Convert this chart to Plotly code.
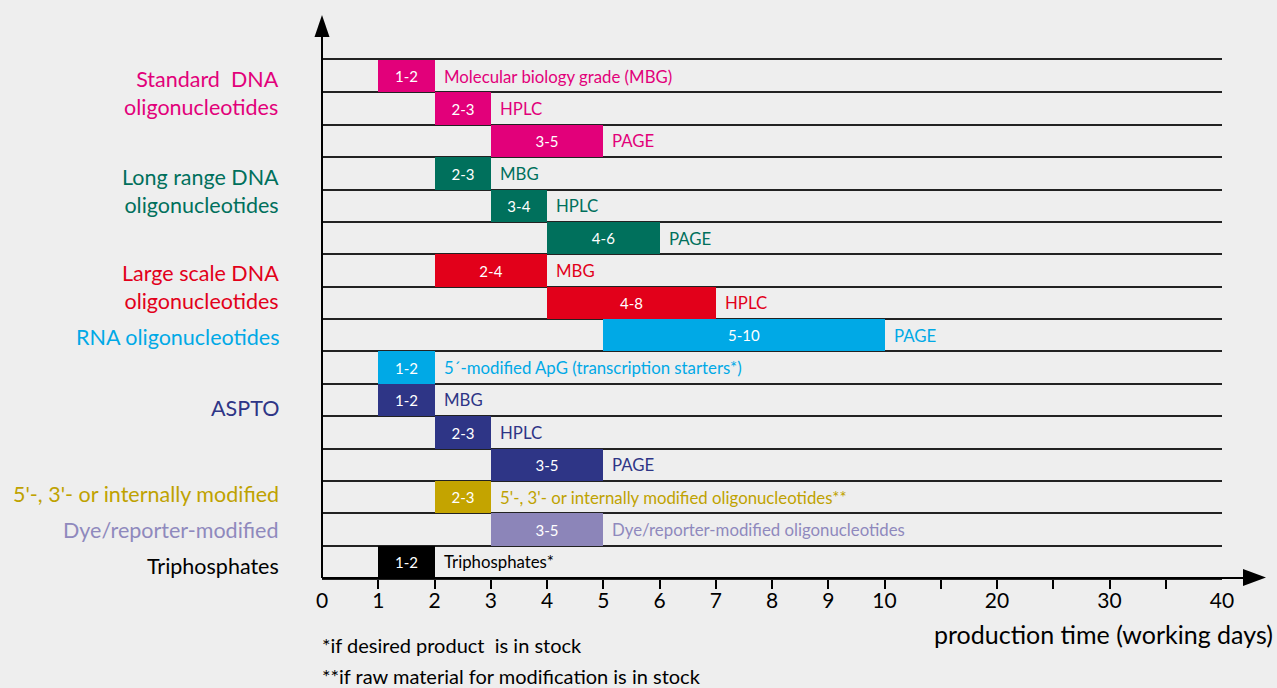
import plotly.graph_objects as go

# ---------------- data ----------------
groups = ["std", "std", "std", "long", "long", "long", "large", "large",
          "rna", "rna", "aspto", "aspto", "aspto", "mod", "dye", "tri"]
start_days = [1, 2, 3, 2, 3, 4, 2, 4, 5, 1, 1, 2, 3, 2, 3, 1]
end_days = [2, 3, 5, 3, 4, 6, 4, 7, 10, 2, 2, 3, 5, 3, 5, 2]
bar_labels = ["1-2", "2-3", "3-5", "2-3", "3-4", "4-6", "2-4", "4-8",
              "5-10", "1-2", "1-2", "2-3", "3-5", "2-3", "3-5", "1-2"]
row_notes = ["Molecular biology grade (MBG)", "HPLC", "PAGE", "MBG", "HPLC", "PAGE",
             "MBG", "HPLC", "PAGE", "5´-modified ApG (transcription starters*)",
             "MBG", "HPLC", "PAGE",
             "5'-, 3'- or internally modified oligonucleotides**",
             "Dye/reporter-modified oligonucleotides", "Triphosphates*"]

group_names = ["std", "long", "large", "rna", "aspto", "mod", "dye", "tri"]
group_titles = ["Standard  DNA<br>oligonucleotides", "Long range DNA<br>oligonucleotides",
                "Large scale DNA<br>oligonucleotides", "RNA oligonucleotides", "ASPTO",
                "5'-, 3'- or internally modified", "Dye/reporter-modified", "Triphosphates"]
group_colors = ["#e2007a", "#00705c", "#e2001a", "#00a9e6", "#2e3586", "#c4a400", "#8c85b9", "#000000"]
group_text_colors = ["#e2007a", "#00705c", "#e2001a", "#00a9e6", "#2e3586", "#bfa200", "#8f89bd", "#000000"]
# vertical placement of the group titles (in row units)
group_title_rows = [0.52, 3.55, 6.5, 8.07, 10.25, 12.92, 14.03, 15.12]

tick_days = [0, 1, 2, 3, 4, 5, 6, 7, 8, 9, 10, 20, 30, 40]
tick_mark_days = [1, 2, 3, 4, 5, 6, 7, 8, 9, 10, 15, 20, 25, 30, 35]

axis_title = "production time (working days)"
footnotes = ["*if desired product  is in stock", "**if raw material for modification is in stock"]


# piecewise axis scale: linear days 0-10, then compressed 10-40
def pos(d):
    return d if d <= 10 else 10 + (d - 10) / 5.0


FONT = "Lato"
color_of = dict(zip(group_names, group_colors))
tcolor_of = dict(zip(group_names, group_text_colors))

rows = list(range(len(groups)))
x0 = [pos(s) for s in start_days]
widths = [pos(e) - pos(s) for s, e in zip(start_days, end_days)]

fig = go.Figure()
fig.add_trace(go.Bar(
    orientation="h",
    y=rows,
    x=widths,
    base=x0,
    width=1.0,
    marker=dict(color=[color_of[g] for g in groups], line=dict(width=0)),
    text=bar_labels,
    textposition="inside",
    insidetextanchor="middle",
    constraintext="none",
    textangle=0,
    textfont=dict(color="white", size=15, family=FONT),
    hoverinfo="skip",
    showlegend=False,
))

annotations = []
for r, e, note, g in zip(rows, end_days, row_notes, groups):
    annotations.append(dict(
        x=pos(e), y=r, xref="x", yref="y", text=note, showarrow=False,
        xanchor="left", yanchor="middle", xshift=7,
        font=dict(size=16.8, color=tcolor_of[g], family=FONT)))

# plot geometry (pixels) for decorations
L, R, T, B = 322, 55, 60, 110
W, H = 1277, 688
pw, ph = W - L - R, H - T - B


def fx(px):
    return (px - L) / pw


def fy(py):
    return (H - B - py) / ph


for title, g, yr in zip(group_titles, group_names, group_title_rows):
    annotations.append(dict(
        x=fx(281), y=yr, xref="paper", yref="y", text=title, showarrow=False,
        xanchor="right", yanchor="middle", align="right",
        font=dict(size=21.5, color=tcolor_of[g], family=FONT)))

annotations.append(dict(
    x=fx(1275), y=fy(634), xref="paper", yref="paper", text=axis_title, showarrow=False,
    xanchor="right", yanchor="middle", font=dict(size=25, color="black", family=FONT)))
for txt, py in zip(footnotes, [645, 676]):
    annotations.append(dict(
        x=fx(320), y=fy(py), xref="paper", yref="paper", text=txt, showarrow=False,
        xanchor="left", yanchor="middle", font=dict(size=20, color="black", family=FONT)))

shapes = [
    # y axis line with arrow
    dict(type="line", xref="paper", yref="paper", x0=0, x1=0, y0=0, y1=fy(34),
         line=dict(color="black", width=2)),
    dict(type="path", xref="paper", yref="paper",
         path=f"M {fx(322)} {fy(15)} L {fx(314.5)} {fy(37)} L {fx(329.5)} {fy(37)} Z",
         fillcolor="black", line=dict(width=0)),
    # x axis extension with arrow
    dict(type="line", xref="paper", yref="paper", x0=0, x1=fx(1246), y0=0, y1=0,
         line=dict(color="black", width=2)),
    dict(type="path", xref="paper", yref="paper",
         path=f"M {fx(1266)} {fy(577.5)} L {fx(1243)} {fy(569)} L {fx(1243)} {fy(586)} Z",
         fillcolor="black", line=dict(width=0)),
]

fig.update_layout(
    width=W, height=H,
    margin=dict(l=L, r=R, t=T, b=B, pad=0),
    paper_bgcolor="#eeeeee", plot_bgcolor="#eeeeee",
    font=dict(family=FONT, color="black"),
    bargap=0,
    annotations=annotations,
    shapes=shapes,
    showlegend=False,
)
fig.update_xaxes(
    range=[0, 16],
    tickvals=[pos(d) for d in tick_days],
    ticktext=[str(d) for d in tick_days],
    ticks="",
    tickfont=dict(size=21, color="black", family=FONT),
    showgrid=False, zeroline=False,
    showline=True, linecolor="#222222", linewidth=1.5, mirror=True,
    ticklabelstandoff=3,
    minor=dict(tickvals=[pos(d) for d in tick_mark_days], ticks="outside",
               ticklen=9, tickwidth=1.5, tickcolor="black", showgrid=False),
    fixedrange=True,
)
fig.update_yaxes(
    range=[15.5, -0.5],
    tickvals=[i - 0.5 for i in range(1, len(groups))],
    showticklabels=False, ticks="",
    showgrid=True, gridcolor="#222222", gridwidth=1.5,
    zeroline=False, showline=False,
    fixedrange=True,
)

fig.write_html("out.html")
